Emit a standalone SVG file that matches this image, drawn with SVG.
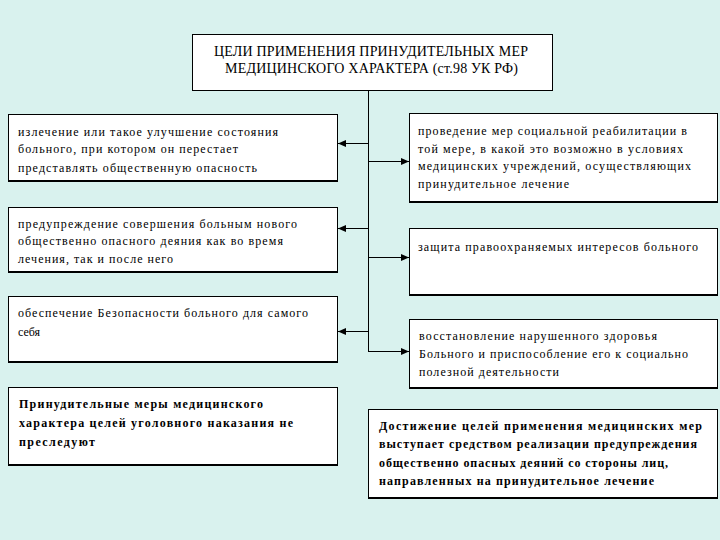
<svg xmlns="http://www.w3.org/2000/svg" width="720" height="540" viewBox="0 0 720 540">
<style>
.bx{fill:#ffffff;stroke:#000000;stroke-width:1}
.sh{stroke:#000000;stroke-width:2}
.t{font-family:'Liberation Serif','DejaVu Serif','Times New Roman',Times,serif;font-size:12px;fill:#000000}
.b{font-family:'Liberation Serif','DejaVu Serif','Times New Roman',Times,serif;font-size:12px;font-weight:bold;fill:#000000}
.h{font-family:'Liberation Serif','DejaVu Serif','Times New Roman',Times,serif;font-size:14px;fill:#000000}
.c{stroke:#000000;stroke-width:1;fill:none}
</style>
<defs>
<marker id="ah" viewBox="0 0 8 8" refX="8" refY="4" markerWidth="8" markerHeight="8" markerUnits="userSpaceOnUse" orient="auto">
<path d="M0,0.5 L8,4 L0,7.5 Z" fill="#000000"/>
</marker>
</defs>
<rect x="0" y="0" width="720" height="540" fill="#d9f2ee"/>
<g id="connectors">
<line class="c" x1="368.5" y1="90" x2="368.5" y2="352"/>
<line class="c" x1="368.5" y1="143.5" x2="338" y2="143.5" marker-end="url(#ah)"/>
<line class="c" x1="368.5" y1="228.5" x2="338" y2="228.5" marker-end="url(#ah)"/>
<line class="c" x1="368.5" y1="331.5" x2="338" y2="331.5" marker-end="url(#ah)"/>
<line class="c" x1="368.5" y1="161.5" x2="409" y2="161.5" marker-end="url(#ah)"/>
<line class="c" x1="368.5" y1="257.5" x2="409" y2="257.5" marker-end="url(#ah)"/>
<line class="c" x1="368" y1="351.5" x2="409" y2="351.5" marker-end="url(#ah)"/>
</g>
<g id="title">
<rect class="bx" x="192.5" y="34.5" width="360" height="56"/>
<text class="h" x="214" y="56" textLength="314" lengthAdjust="spacing">ЦЕЛИ ПРИМЕНЕНИЯ ПРИНУДИТЕЛЬНЫХ  МЕР</text>
<text class="h" x="225" y="73" textLength="293" lengthAdjust="spacing">МЕДИЦИНСКОГО ХАРАКТЕРА (ст.98 УК РФ)</text>
</g>
<g id="left1">
<rect class="bx" x="8.5" y="114.5" width="329" height="66"/>
<line class="sh" x1="8" y1="181" x2="338" y2="181"/>
<text class="t" x="18" y="136" textLength="260" lengthAdjust="spacing">излечение или такое улучшение состояния</text>
<text class="t" x="18" y="153" textLength="220" lengthAdjust="spacing">больного, при котором он перестает</text>
<text class="t" x="18" y="172" textLength="239" lengthAdjust="spacing">представлять общественную опасность</text>
</g>
<g id="left2">
<rect class="bx" x="8.5" y="207.5" width="329" height="64"/>
<line class="sh" x1="8" y1="272" x2="338" y2="272"/>
<text class="t" x="18" y="228" textLength="279" lengthAdjust="spacing">предупреждение совершения больным нового</text>
<text class="t" x="18" y="245" textLength="265" lengthAdjust="spacing">общественно опасного деяния как во время</text>
<text class="t" x="18" y="263" textLength="155" lengthAdjust="spacing">лечения, так и после него</text>
</g>
<g id="left3">
<rect class="bx" x="8.5" y="296.5" width="329" height="65"/>
<line class="sh" x1="8" y1="362" x2="338" y2="362"/>
<text class="t" x="18" y="317" textLength="290" lengthAdjust="spacing">обеспечение Безопасности больного для самого</text>
<text class="t" x="18" y="336">себя</text>
</g>
<g id="left4">
<rect class="bx" x="8.5" y="387.5" width="329" height="77"/>
<line class="sh" x1="8" y1="465" x2="338" y2="465"/>
<text class="b" x="19" y="408" textLength="244" lengthAdjust="spacing">Принудительные меры медицинского</text>
<text class="b" x="19" y="427" textLength="274" lengthAdjust="spacing">характера целей уголовного наказания  не</text>
<text class="b" x="19" y="446" textLength="76" lengthAdjust="spacing">преследуют</text>
</g>
<g id="right1">
<rect class="bx" x="409.5" y="113.5" width="308" height="88"/>
<line class="sh" x1="409" y1="202" x2="718" y2="202"/>
<text class="t" x="418" y="135" textLength="269" lengthAdjust="spacing">проведение мер социальной реабилитации в</text>
<text class="t" x="418" y="153" textLength="265" lengthAdjust="spacing">той мере, в какой  это возможно в условиях</text>
<text class="t" x="418" y="170" textLength="273" lengthAdjust="spacing">медицинских учреждений, осуществляющих</text>
<text class="t" x="418" y="188" textLength="151" lengthAdjust="spacing">принудительное лечение</text>
</g>
<g id="right2">
<rect class="bx" x="409.5" y="228.5" width="308" height="66"/>
<line class="sh" x1="409" y1="295" x2="718" y2="295"/>
<text class="t" x="418" y="251" textLength="280" lengthAdjust="spacing">защита правоохраняемых интересов больного</text>
</g>
<g id="right3">
<rect class="bx" x="409.5" y="319.5" width="308" height="68"/>
<line class="sh" x1="409" y1="388" x2="718" y2="388"/>
<text class="t" x="419" y="340" textLength="238" lengthAdjust="spacing">восстановление нарушенного здоровья</text>
<text class="t" x="419" y="358" textLength="269" lengthAdjust="spacing">Больного и приспособление его к социально</text>
<text class="t" x="419" y="376" textLength="140" lengthAdjust="spacing">полезной деятельности</text>
</g>
<g id="right4">
<rect class="bx" x="368.5" y="409.5" width="349" height="88"/>
<line class="sh" x1="368" y1="498" x2="718" y2="498"/>
<text class="b" x="379" y="430" textLength="323" lengthAdjust="spacing">Достижение целей применения  медицинских мер</text>
<text class="b" x="379" y="448" textLength="318" lengthAdjust="spacing">выступает средством реализации предупреждения</text>
<text class="b" x="379" y="467" textLength="289" lengthAdjust="spacing">общественно опасных деяний со стороны лиц,</text>
<text class="b" x="379" y="485" textLength="275" lengthAdjust="spacing">направленных на принудительное лечение</text>
</g>
</svg>
